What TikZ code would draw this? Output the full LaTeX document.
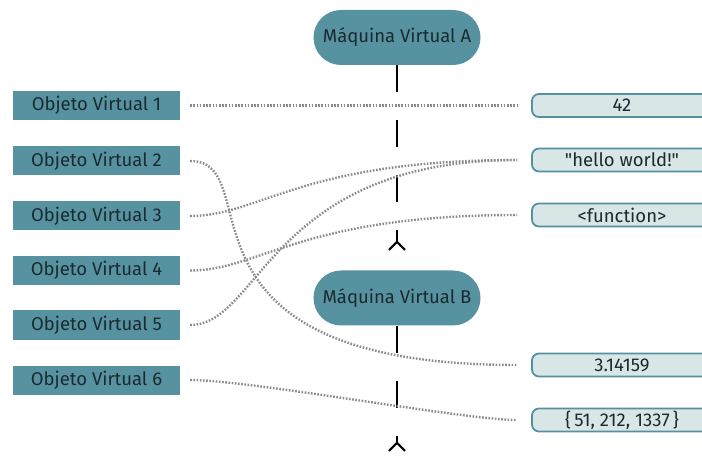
\documentclass[tikz,border=0pt]{standalone}
\usepackage{fontspec}
\setmainfont{Fira Sans}[Ligatures=TeXOff]
\usetikzlibrary{arrows.meta}

\definecolor{vmteal}{HTML}{5792A1}
\definecolor{valfill}{HTML}{D9E6E6}
\definecolor{valedge}{HTML}{5590A0}
\definecolor{inkdark}{HTML}{1B2A30}
\definecolor{dotgray}{HTML}{8A8A8A}

\begin{document}
\begin{tikzpicture}[x=1pt, y=-1pt,
  labelfont/.style={font=\fontsize{18.5}{20}\selectfont},
  objbox/.style={labelfont, fill=vmteal, text=inkdark, minimum width=167pt,
    minimum height=29pt, inner sep=0pt},
  vmbox/.style={labelfont, fill=vmteal, text=inkdark, minimum width=167pt,
    minimum height=55pt, rounded corners=27.5pt, inner sep=0pt},
  valbox/.style={labelfont, fill=valfill, draw=valedge, line width=1.8pt,
    rounded corners=7pt, minimum width=180pt, minimum height=23pt,
    inner sep=0pt, text=inkdark},
  link/.style={draw=dotgray, line width=2.4pt, dash pattern=on 1.6pt off 1.6pt,
    shorten <=10pt, shorten >=14pt},
  lifeline/.style={draw=black, line width=2.6pt, dash pattern=on 27pt off 28pt,
    -{Straight Barb[reversed, length=8pt, width=16pt, line width=2.2pt]}}
]
\clip (0,0) rectangle (702,457);

% virtual machines
\node[vmbox] (mA) at (397,37.5) {Máquina Virtual A};
\node[vmbox] (mB) at (397,298) {Máquina Virtual B};

% lifelines below each machine
\coordinate (endA) at (397,251);
\coordinate (endB) at (397,452);
\draw[lifeline] (mA.south) -- (endA);
\draw[lifeline] (mB.south) -- (endB);

% virtual objects
\node[objbox] (o1) at (96.5,105.5) {Objeto Virtual 1};
\node[objbox] (o2) at (96.5,161)   {Objeto Virtual 2};
\node[objbox] (o3) at (96.5,216)   {Objeto Virtual 3};
\node[objbox] (o4) at (96.5,270.5) {Objeto Virtual 4};
\node[objbox] (o5) at (96.5,325)   {Objeto Virtual 5};
\node[objbox] (o6) at (96.5,380)   {Objeto Virtual 6};

% values
\node[valbox] (v1) at (622,105.5) {42};
\node[valbox] (v2) at (622,160)   {"hello world!"};
\node[valbox] (v3) at (622,215)   {<function>};
\node[valbox] (v4) at (622,365)   {3.14159};
\node[valbox] (v5) at (622,420)   {\{\,51, 212, 1337\,\}};

% references from objects to values
\draw[link] (o1.east) -- (v1.west);
\draw[link] (o2.east) .. controls +(91,0) and +(-378,0) .. (v4.west);
\draw[link] (o3.east) .. controls +(80,0) and +(-231,0) .. (v2.west);
\draw[link] (o4.east) .. controls +(80,0) and +(-231,0) .. (v3.west);
\draw[link] (o5.east) .. controls +(80,0) and +(-261,0) .. (v2.west);
\draw[link] (o6.east) .. controls +(70,0) and +(-67,0) .. (v5.west);
\end{tikzpicture}
\end{document}
